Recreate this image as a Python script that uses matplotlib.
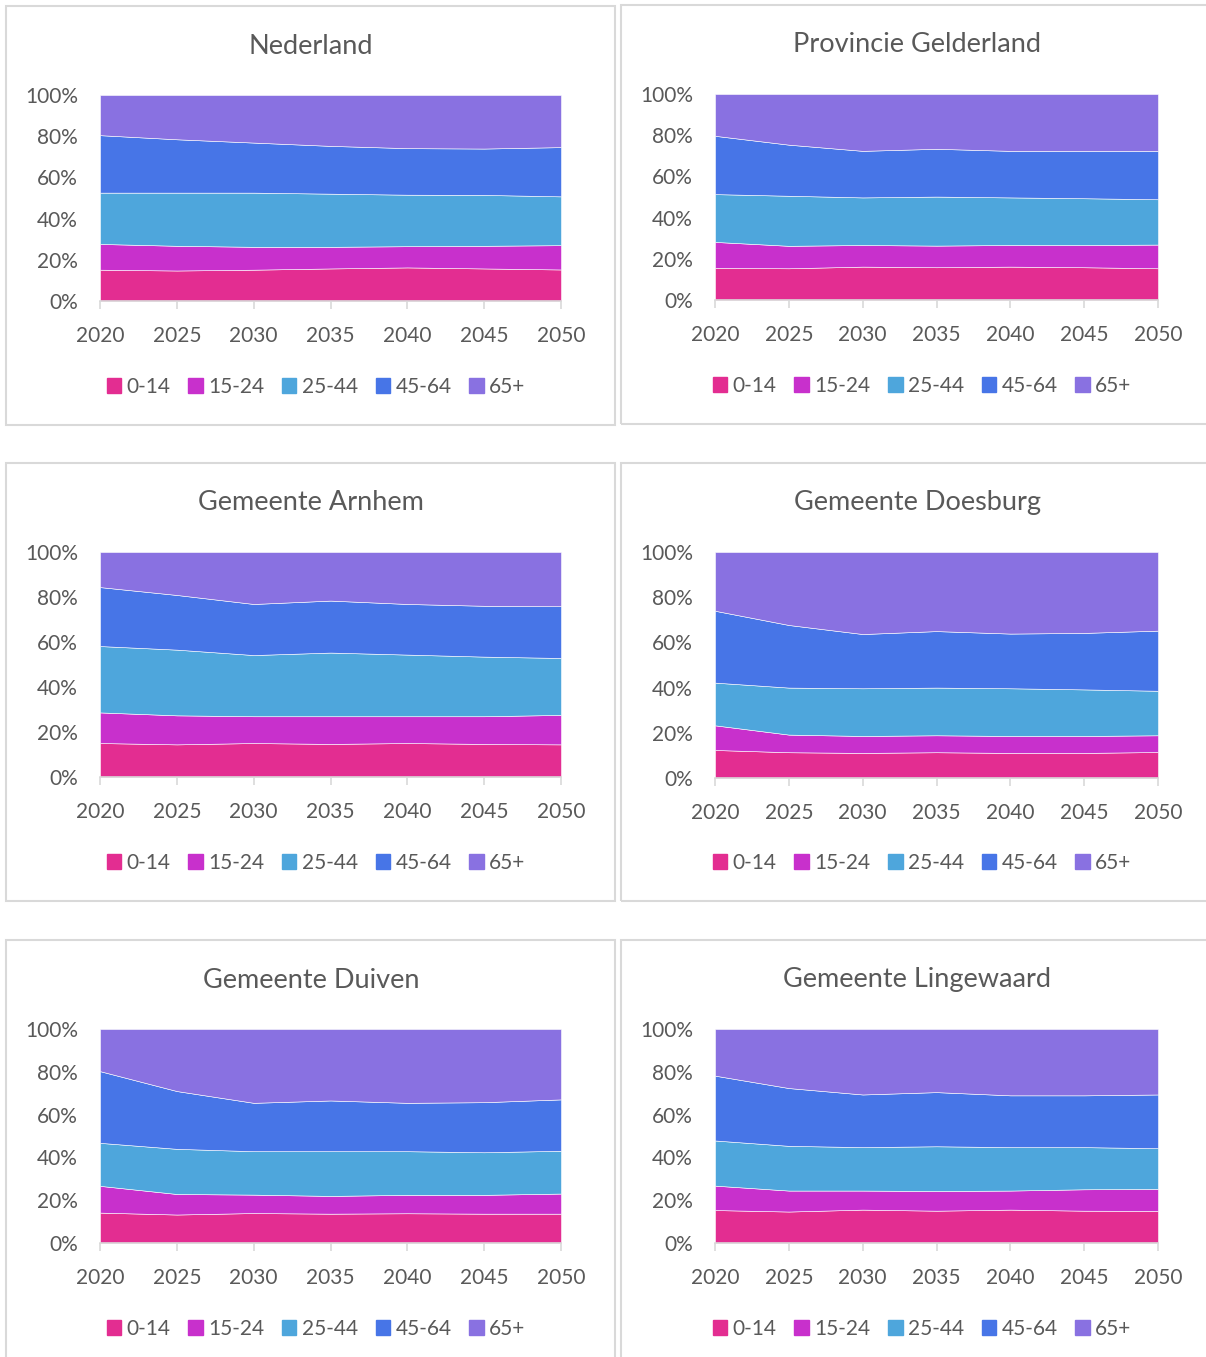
import matplotlib
matplotlib.use("Agg")
import matplotlib.pyplot as plt
from matplotlib.patches import Rectangle

# population share (%) per age group, 2020-2050
years = [2020, 2025, 2030, 2035, 2040, 2045, 2050]
groups = ["0-14", "15-24", "25-44", "45-64", "65+"]
colors = ["#E32D91", "#C830CC", "#4EA6DC", "#4775E7", "#8971E1"]

nederland = [
    [15.2, 14.8, 15.2, 15.8, 16.3, 15.8, 15.3],
    [12.5, 12.0, 11.1, 10.5, 10.3, 11.0, 11.8],
    [24.9, 25.8, 26.3, 25.8, 25.0, 24.7, 23.7],
    [27.9, 25.9, 24.3, 23.2, 22.6, 22.5, 23.9],
    [19.5, 21.5, 23.1, 24.7, 25.8, 26.0, 25.3],
]
gelderland = [
    [15.6, 15.4, 16.2, 15.9, 16.2, 15.9, 15.4],
    [12.6, 10.9, 10.5, 10.5, 10.5, 10.8, 11.5],
    [23.2, 24.3, 23.1, 23.8, 23.1, 22.7, 22.0],
    [28.3, 24.8, 22.6, 23.2, 22.6, 23.0, 23.5],
    [20.3, 24.6, 27.6, 26.6, 27.6, 27.6, 27.6],
]
arnhem = [
    [15.1, 14.5, 15.1, 14.7, 15.1, 14.7, 14.5],
    [13.6, 12.9, 11.9, 12.3, 11.9, 12.3, 13.1],
    [29.5, 29.2, 27.2, 28.3, 27.4, 26.5, 25.3],
    [26.2, 24.3, 22.7, 23.1, 22.5, 22.6, 23.0],
    [15.6, 19.1, 23.1, 21.6, 23.1, 23.9, 24.1],
]
doesburg = [
    [12.4, 11.4, 11.1, 11.4, 11.1, 11.1, 11.5],
    [10.9, 7.8, 7.5, 7.5, 7.5, 7.5, 7.4],
    [18.9, 20.8, 21.1, 21.1, 21.1, 20.6, 19.7],
    [31.8, 27.7, 24.0, 25.0, 24.2, 25.0, 26.6],
    [26.0, 32.3, 36.3, 35.0, 36.1, 35.8, 34.8],
]
duiven = [
    [14.2, 13.3, 14.0, 13.7, 13.9, 13.7, 13.7],
    [12.5, 9.6, 8.6, 8.3, 8.6, 8.8, 9.4],
    [20.1, 21.1, 20.3, 20.9, 20.4, 19.9, 20.0],
    [33.5, 27.0, 22.6, 23.7, 22.6, 23.4, 24.0],
    [19.7, 29.0, 34.5, 33.4, 34.5, 34.2, 32.9],
]
lingewaard = [
    [15.4, 14.7, 15.6, 15.1, 15.6, 15.1, 15.0],
    [11.4, 9.8, 8.9, 9.2, 8.9, 10.0, 10.3],
    [21.1, 20.9, 20.3, 20.9, 20.3, 19.7, 19.0],
    [30.3, 27.0, 24.6, 25.3, 24.2, 24.2, 25.1],
    [21.8, 27.6, 30.6, 29.5, 31.0, 31.0, 30.6],
]

titles = ["Nederland", "Provincie Gelderland", "Gemeente Arnhem",
          "Gemeente Doesburg", "Gemeente Duiven", "Gemeente Lingewaard"]
datasets = [nederland, gelderland, arnhem, doesburg, duiven, lingewaard]

W, H = 1206, 1357
TXT = "#595959"
GRID = "#D9D9D9"
plt.rcParams["font.family"] = ["Lato", "DejaVu Sans"]

fig = plt.figure(figsize=(W / 100, H / 100), dpi=100)

def fx(x): return x / W
def fy(y): return 1 - y / H

# panel frames (pixel boxes: left, top, right, bottom)
frames = [(6, 6, 615, 425), (621, 5, 1230, 424),
          (6, 463, 615, 901), (621, 463, 1230, 901),
          (6, 940, 615, 1380), (621, 940, 1230, 1380)]
# plot areas (left, top, right, bottom)
areas = [(100, 95, 561, 301), (715, 94, 1158, 300),
         (100, 552, 561, 777), (715, 552, 1158, 778),
         (100, 1029, 561, 1243), (715, 1029, 1158, 1243)]
title_x = [311, 917, 311, 917, 311, 917]
title_y = [46, 45, 503, 503, 980, 980]
legend_x = [316, 922, 316, 922, 316, 922]
legend_y = [387, 386, 863, 863, 1329, 1329]

for i, (data, title) in enumerate(zip(datasets, titles)):
    l, t, r, b = frames[i]
    fig.add_artist(Rectangle((fx(l), fy(b)), fx(r - l), (b - t) / H,
                             transform=fig.transFigure, fill=False,
                             edgecolor=GRID, lw=1.5))
    al, at, ar, ab = areas[i]
    ax = fig.add_axes([fx(al), fy(ab), fx(ar - al), (ab - at) / H])
    ax.stackplot(years, *data, colors=colors, labels=groups,
                 edgecolor="white", linewidth=0.4)
    ax.set_xlim(2020, 2050)
    ax.set_ylim(0, 100)
    ax.set_xticks(years)
    ax.set_yticks(range(0, 101, 20))
    ax.set_yticklabels([f"{v}%" for v in range(0, 101, 20)])
    for s in ["top", "right", "left"]:
        ax.spines[s].set_visible(False)
    ax.spines["bottom"].set_color(GRID)
    ax.spines["bottom"].set_linewidth(1.2)
    ax.tick_params(axis="x", colors=GRID, labelcolor=TXT, labelsize=15,
                   length=6, width=1.2, pad=12)
    ax.tick_params(axis="y", length=0, labelcolor=TXT, labelsize=15, pad=16)

    fig.text(fx(title_x[i]), fy(title_y[i]), title, ha="center",
             va="center", fontsize=19.5, color=TXT)

    handles = [Rectangle((0, 0), 1, 1, color=c) for c in colors]
    ax.legend(handles, groups, loc="center",
              bbox_to_anchor=(fx(legend_x[i]), fy(legend_y[i])),
              bbox_transform=fig.transFigure, ncol=5, frameon=False,
              fontsize=15, labelcolor=TXT, handlelength=0.7,
              handleheight=0.7, handletextpad=0.25, columnspacing=0.85,
              borderpad=0)

fig.savefig("out.png", dpi=100)
